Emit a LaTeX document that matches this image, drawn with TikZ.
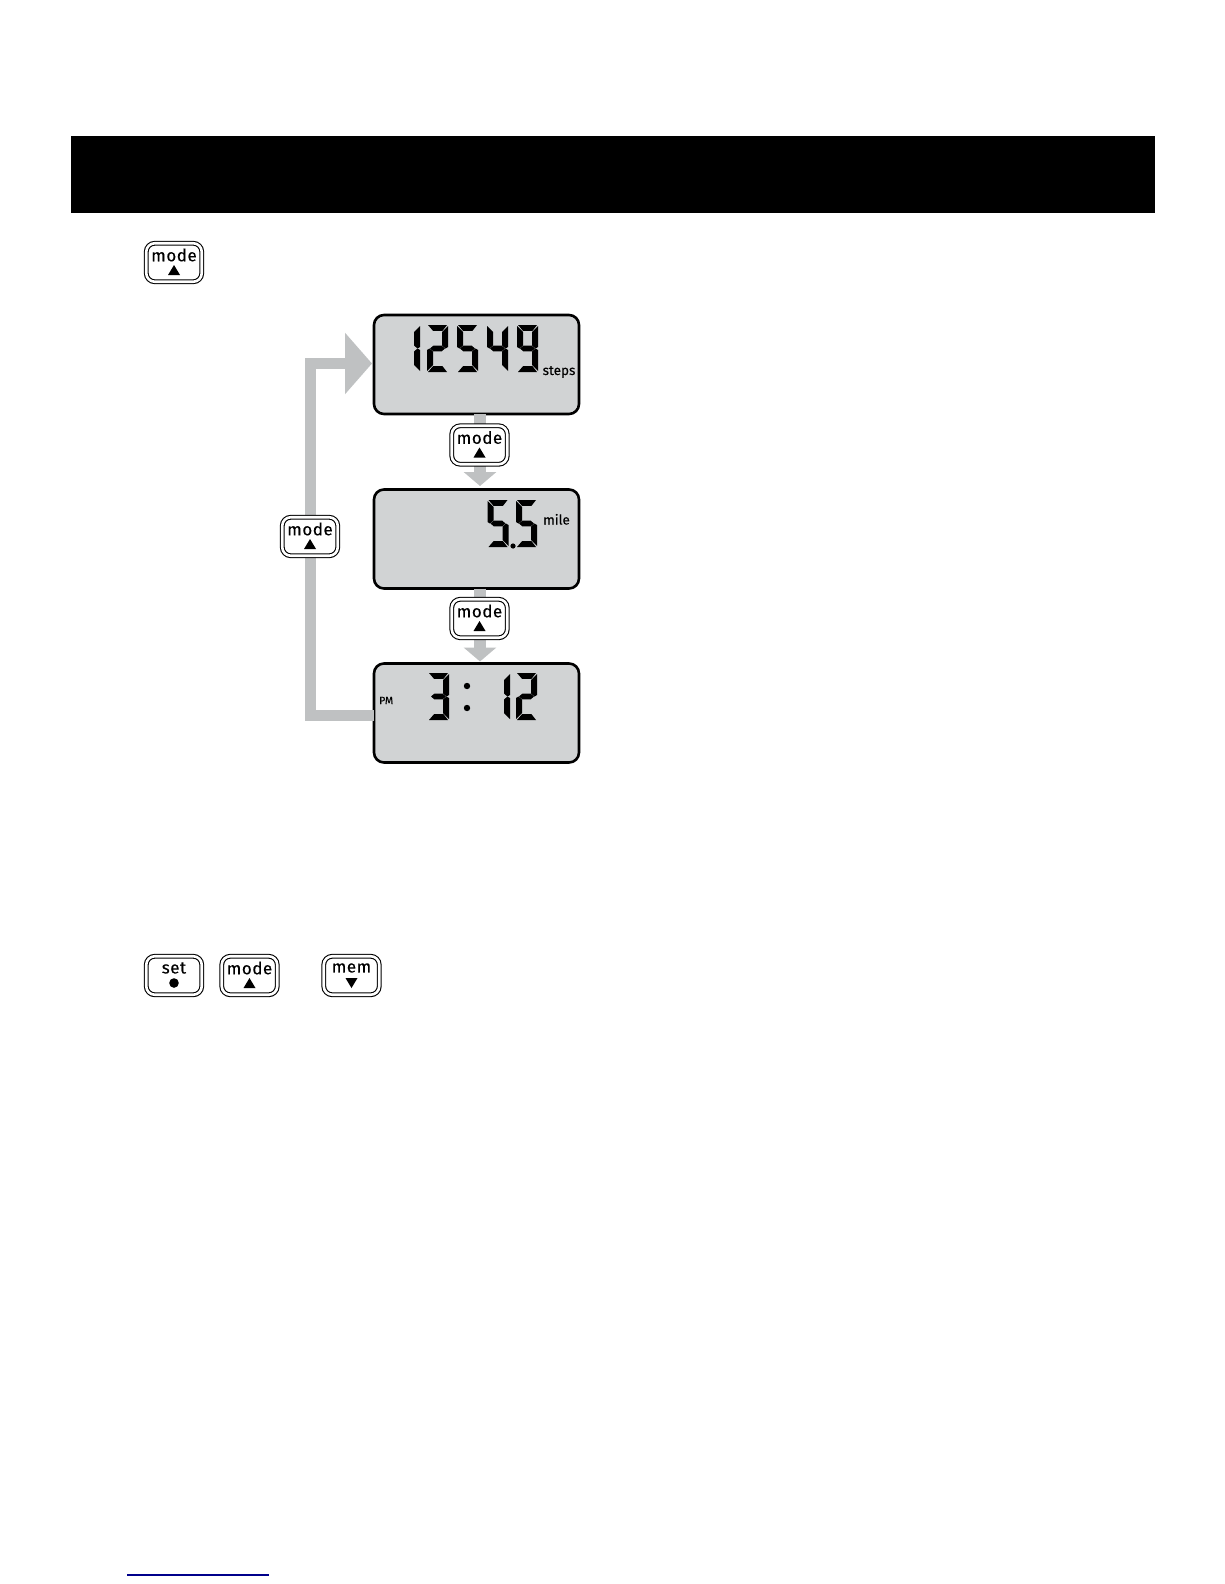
\documentclass[tikz,border=0pt]{standalone}
\usepackage{fontspec}
\setmainfont{Fira Sans}[FakeBold=0.25]
\newfontfamily\btnfont{Fira Sans}[FakeBold=0.3,LetterSpace=3]
\usetikzlibrary{arrows.meta}
\definecolor{lcdgrey}{HTML}{D1D3D4}
\definecolor{flowgrey}{HTML}{BFC1C2}
\definecolor{linkblue}{HTML}{00008B}
\tikzset{
  lcd/.style={draw=black,line width=2.6pt,fill=lcdgrey,rounded corners=10pt,minimum width=205pt,minimum height=99pt,inner sep=0pt,outer sep=0pt},
  flow/.style={draw=flowgrey,line width=12pt},
  btn/.style={draw=black,fill=white,line width=1.1pt,double=white,double distance=2.6pt,rounded corners=8.5pt,minimum width=55.5pt,minimum height=38.5pt,inner sep=0pt,outer sep=0pt},
  btnlabel/.style={font=\btnfont\fontsize{17}{18}\selectfont,inner sep=0pt,text=black},
  lcdunit/.style={font=\fontsize{13.5}{15}\selectfont,inner sep=0pt,text=black},
}
\newcommand{\sega}{\fill (1,0)--(20,0)--(15.5,5.8)--(6,5.8)--cycle;}
\newcommand{\segb}{\fill (21,1)--(21,22)--(18.5,23.5)--(15,20.5)--(15,7)--cycle;}
\newcommand{\segc}{\fill (21,25)--(21,46)--(15,40)--(15,26.5)--(18.5,23.5)--cycle;}
\newcommand{\segd}{\fill (1,47)--(20,47)--(15.5,41.2)--(6,41.2)--cycle;}
\newcommand{\sege}{\fill (0,46)--(0,25)--(2.5,23.5)--(6,26.5)--(6,40)--cycle;}
\newcommand{\segf}{\fill (0,1)--(0,22)--(2.5,23.5)--(6,20.5)--(6,7)--cycle;}
\newcommand{\segg}{\fill (3,23.5)--(6.3,20.7)--(14.7,20.7)--(18,23.5)--(14.7,26.3)--(6.3,26.3)--cycle;}
\newcommand{\lcddigit}[3]{\begin{scope}[shift={(#1,#2)}]\foreach \s in {#3}{\csname seg\s\endcsname}\end{scope}}
\newcommand{\keybtn}[4]{%
  \node[btn] (#1) at (#2,#3) {};
  \node[btnlabel,anchor=center] (#1-label) at ([yshift=7.5pt]#1.center) {#4};
}
\newcommand{\uptri}[1]{\fill ([shift={(-6pt,-12.5pt)}]#1.center) -- ([shift={(6pt,-12.5pt)}]#1.center) -- ([shift={(0pt,-2.5pt)}]#1.center) -- cycle;}
\begin{document}
\begin{tikzpicture}[x=1pt,y=-1pt]
\useasboundingbox (0,0) rectangle (1224,1584);
\node[fill=black,minimum width=1084pt,minimum height=77pt,inner sep=0pt,outer sep=0pt] (band) at (613,174.5) {};

\node[lcd] (lcd1) at (476.5,364.5) {};
\node[lcd] (lcd2) at (476.5,539) {};
\node[lcd] (lcd3) at (476.5,713) {};

\coordinate (stem) at (480,0);
\coordinate (c1) at (310,363.5);
\coordinate (c2) at (310,715.5);

\draw[flow,-{Triangle[length=14pt,width=32pt]},shorten >=3.5pt] (stem |- lcd1.south) -- (stem |- lcd2.north);
\draw[flow,-{Triangle[length=14pt,width=32pt]},shorten >=2pt] (stem |- lcd2.south) -- (stem |- lcd3.north);
\draw[flow,-{Triangle[length=27pt,width=60pt]},line width=11pt,shorten >=2pt] (lcd3.west |- c2) -- (c2) -- (c1) -- (lcd1.west |- c1);

% LCD 1
\lcddigit{399}{325}{b,c}
\lcddigit{427}{325}{a,b,g,e,d}
\lcddigit{457}{325}{a,f,g,c,d}
\lcddigit{487}{325}{f,g,b,c}
\lcddigit{517}{325}{a,b,c,d,f,g}
\node[lcdunit,anchor=base west] (u1) at (542.5,375) {steps};
% LCD 2
\lcddigit{487.5}{500}{a,f,g,c,d}
\lcddigit{516}{500}{a,f,g,c,d}
\fill (513,546) circle (2.6);
\node[lcdunit,anchor=base west] (u2) at (543,524.5) {mile};
% LCD 3
\lcddigit{428}{673}{a,b,g,c,d}
\fill (467,686) circle (3.2);
\fill (467,708) circle (3.2);
\lcddigit{489}{673}{b,c}
\lcddigit{516}{673}{a,b,g,e,d}
\node[font=\fontsize{10.5}{11}\selectfont,inner sep=0pt,anchor=base west] (u3) at (379,704) {PM};

% Buttons
\keybtn{b0}{174}{262.5}{mode}\uptri{b0}
\keybtn{b1}{479.5}{445}{mode}\uptri{b1}
\keybtn{b2}{479.5}{618.5}{mode}\uptri{b2}
\keybtn{b3}{310}{536.5}{mode}\uptri{b3}
\keybtn{b4}{174}{975.5}{set}
\fill ([yshift=-7.5pt]b4.center) circle (4.8);
\keybtn{b5}{249.5}{975.5}{mode}\uptri{b5}
\keybtn{b6}{351.5}{975.5}{mem}
\fill ([shift={(-6pt,-2.5pt)}]b6.center) -- ([shift={(6pt,-2.5pt)}]b6.center) -- ([shift={(0pt,-12.5pt)}]b6.center) -- cycle;

\coordinate (ul1) at (127,1575);
\coordinate (ul2) at (269,1575);
\draw[linkblue,line width=1.2pt] (ul1) -- (ul2);
\end{tikzpicture}
\end{document}
